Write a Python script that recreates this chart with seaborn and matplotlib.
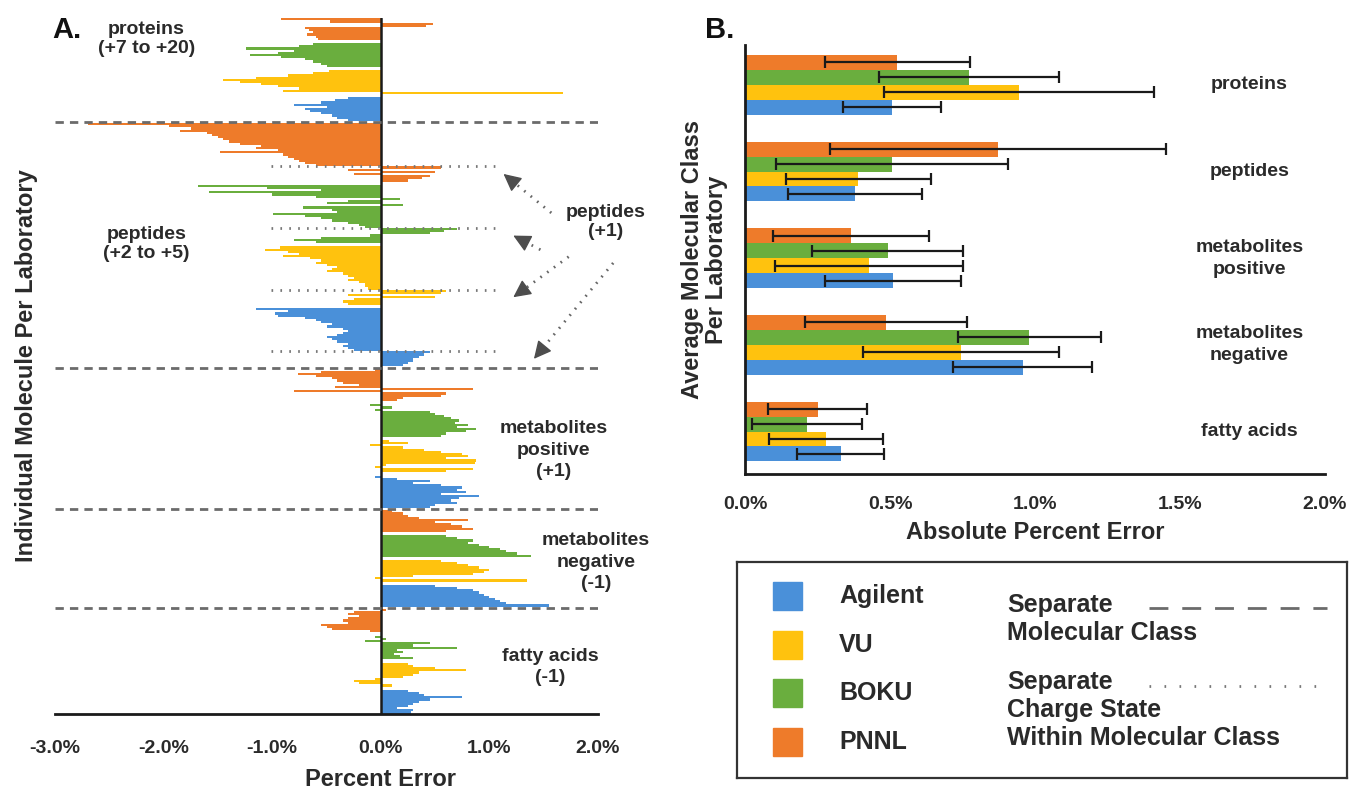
import matplotlib
matplotlib.use('Agg')
import matplotlib.pyplot as plt
import matplotlib.ticker as mticker
import numpy as np
import pandas as pd
import seaborn as sns

# labs, top to bottom inside every group
labs = ['PNNL', 'BOKU', 'VU', 'Agilent']
lab_colors = {'PNNL': '#EE7B2A', 'BOKU': '#6AAE3E', 'VU': '#FFC20E', 'Agilent': '#4A90D9'}

### PANEL A : percent error of every molecule (listed top to bottom) ###
prot_pnnl = [-0.92, -0.47, 0.48, 0.42, -0.70, -0.66, -0.62, -0.68, -0.60, -0.58]
prot_boku = [-0.62, -0.75, -1.24, -0.80, -0.95, -1.20, -0.92, -0.70, -0.62, -0.55, -0.50]
prot_vu = [-0.48, -0.62, -0.85, -1.15, -1.45, -1.30, -1.10, -0.95, -0.75, -0.90, 1.68]
prot_agilent = [-0.30, -0.42, -0.55, -0.80, -0.50, -0.70, -0.65, -0.55, -0.45, -0.40, -0.30]

# peptides +2 to +5
pep_pnnl = [-2.70, -1.95, -1.75, -1.85, -1.60, -1.55, -1.50, -1.45, -1.40, -1.30, -1.10,
            -1.15, -0.95, -1.48, -0.90, -0.85, -0.80, -0.75, -0.70, -0.60]
pep_boku = [-1.68, -1.05, -0.55, -1.58, -1.00, -0.60, 0.18, -0.30, -0.50, 0.20, -0.72,
            -0.45, -0.40, -0.99, -0.70, -0.55, -0.45, -0.30, -0.20, -0.15]
pep_vu = [-0.93, -1.07, -0.85, -0.75, -0.90, -0.65, -0.55, -0.60, -0.50, -0.40,
          -0.45, -0.50, -0.35, -0.30, -0.25, -0.30, -0.20, -0.15, -0.15, -0.12]
pep_agilent = [-1.15, -0.85, -0.97, -0.95, -0.70, -0.60, -0.55, -0.45, -0.50, -0.35,
               -0.30, -0.35, -0.40, -0.50, -0.45, -0.40, -0.30, -0.35, -0.30, -0.25]
# peptides +1
pep1_pnnl = [0.55, -0.30, 0.50, -0.25, 0.45, 0.38, 0.25]
pep1_boku = [0.70, 0.58, 0.45, -0.10, -0.55, -0.80, -0.60]
pep1_vu = [0.60, 0.55, -0.30, 0.50, -0.25, -0.35, -0.30]
pep1_agilent = [0.45, 0.40, 0.35, 0.30, 0.30, 0.25, 0.20]

metp_pnnl = [-0.05, -0.55, -0.76, -0.60, -0.45, -0.40, -0.35, -0.20, -0.42, 0.85, -0.80, 0.60, 0.55, 0.20, 0.15]
metp_boku = [-0.10, 0.10, -0.05, 0.45, 0.50, 0.58, 0.65, 0.72, 0.68, 0.80, 0.70, 0.88, 0.78, 0.60, 0.55]
metp_vu = [0.08, 0.25, -0.10, 0.20, 0.40, 0.55, 0.75, 0.80, 0.60, 0.88, 0.87, 0.05, -0.05, 0.85, 0.60]
metp_agilent = [-0.05, 0.15, 0.45, 0.30, 0.55, 0.75, 0.70, 0.78, 0.55, 0.90, 0.72, 0.65, 0.70, 0.50, 0.45]

metn_pnnl = [0.10, 0.20, 0.25, 0.35, 0.80, 0.50, 0.65, 0.75, 0.85, 0.60]
metn_boku = [0.60, 0.70, 0.85, 0.80, 0.90, 1.00, 1.10, 1.15, 1.25, 1.38]
metn_vu = [0.55, 0.70, 0.80, 0.90, 1.00, 0.95, 0.85, 0.30, -0.05, 1.35]
metn_agilent = [0.50, 0.70, 0.85, 0.90, 0.95, 1.00, 1.05, 1.10, 1.15, 1.55]

fa_pnnl = [0.05, -0.25, -0.30, -0.20, -0.30, -0.35, -0.30, -0.55, -0.50, -0.45, -0.10]
fa_boku = [-0.05, 0.05, -0.15, 0.45, 0.30, 0.70, 0.15, 0.20, 0.12, 0.18, 0.30]
fa_vu = [0.25, 0.30, 0.50, 0.78, 0.35, 0.30, 0.20, -0.05, -0.25, -0.20, 0.10]
fa_agilent = [0.25, 0.35, 0.40, 0.75, 0.45, 0.35, 0.30, 0.25, 0.15, 0.30, 0.28]

a_ticks = [-3, -2, -1, 0, 1, 2]

### PANEL B : average absolute percent error per class and lab ###
classes_b = ['proteins', 'peptides', 'metabolites\npositive', 'metabolites\nnegative', 'fatty acids']
mean_pnnl = [0.525, 0.873, 0.365, 0.487, 0.250]
err_pnnl = [0.250, 0.580, 0.270, 0.280, 0.170]
mean_boku = [0.772, 0.508, 0.492, 0.980, 0.214]
err_boku = [0.310, 0.400, 0.260, 0.246, 0.190]
mean_vu = [0.946, 0.390, 0.427, 0.745, 0.279]
err_vu = [0.465, 0.250, 0.325, 0.337, 0.196]
mean_agilent = [0.507, 0.379, 0.511, 0.957, 0.330]
err_agilent = [0.170, 0.230, 0.234, 0.240, 0.150]

sns.set_style('white')
plt.rcParams['font.family'] = ['Liberation Sans', 'DejaVu Sans']
plt.rcParams['font.weight'] = 'bold'
txt = '#2a2a2a'

W, H = 1358, 793
fig = plt.figure(figsize=(W / 100, H / 100), dpi=100)

# ---------------- panel A ----------------
sections_a = [
    {'PNNL': [prot_pnnl], 'BOKU': [prot_boku], 'VU': [prot_vu], 'Agilent': [prot_agilent]},
    {'PNNL': [pep_pnnl, pep1_pnnl], 'BOKU': [pep_boku, pep1_boku],
     'VU': [pep_vu, pep1_vu], 'Agilent': [pep_agilent, pep1_agilent]},
    {'PNNL': [metp_pnnl], 'BOKU': [metp_boku], 'VU': [metp_vu], 'Agilent': [metp_agilent]},
    {'PNNL': [metn_pnnl], 'BOKU': [metn_boku], 'VU': [metn_vu], 'Agilent': [metn_agilent]},
    {'PNNL': [fa_pnnl], 'BOKU': [fa_boku], 'VU': [fa_vu], 'Agilent': [fa_agilent]},
]
rows = []
dashed_y, dotted_y, plus1_y = [], [], []
pos = 0.0
for s, sec in enumerate(sections_a):
    for j, lab in enumerate(labs):
        for k, part in enumerate(sec[lab]):
            if k == 1:
                dotted_y.append(pos - 0.5)
                plus1_y.append(pos + (len(part) - 1) / 2)
            for v in part:
                rows.append({'pos': pos, 'error': v, 'lab': lab})
                pos += 1
        if j < len(labs) - 1:
            pos += 1.5
    if s < len(sections_a) - 1:
        dashed_y.append(pos)
        pos += 1.0
dfA = pd.DataFrame(rows)

axA = fig.add_axes([55 / W, 1 - 714 / H, 543 / W, 696 / H])
sns.barplot(data=dfA, x='error', y='pos', hue='lab', hue_order=labs, palette=lab_colors,
            orient='h', native_scale=True, dodge=False, width=1.0, errorbar=None,
            saturation=1, linewidth=0, legend=False, ax=axA)
axA.set_xlim(-3, 2)
axA.set_ylim(pos - 0.3, -0.6)
axA.set_yticks([])
axA.set_ylabel('Individual Molecule Per Laboratory', fontsize=17, fontweight='bold', color=txt, labelpad=12)
axA.set_xticks(a_ticks)
axA.set_xticklabels([f'{t:.1f}%' for t in a_ticks], fontsize=14, fontweight='bold', color=txt)
axA.set_xlabel('Percent Error', fontsize=17, fontweight='bold', color=txt)
axA.xaxis.set_label_coords(0.6, -0.078)
axA.tick_params(axis='x', direction='inout', length=14, width=2, color='#1a1a1a', pad=12)
for side in ['left', 'top', 'right']:
    axA.spines[side].set_visible(False)
axA.spines['bottom'].set_linewidth(2)
axA.spines['bottom'].set_color('#1a1a1a')
axA.axvline(0, color='#1a1a1a', lw=1.8, zorder=5)

for y in dashed_y:
    axA.axhline(y, color='#6b6b6b', lw=2, dashes=(3, 2.2), zorder=6)
for y in dotted_y:
    axA.plot([-1.01, 1.06], [y, y], color='#777777', lw=2, dashes=(0.6, 2.6), zorder=6)

xtr = axA.get_xaxis_transform()
axA.text(-2.16, 0.970, 'proteins\n(+7 to +20)', transform=xtr, ha='center', va='center', fontsize=14, color=txt)
axA.text(-2.16, 0.675, 'peptides\n(+2 to +5)', transform=xtr, ha='center', va='center', fontsize=14, color=txt)
axA.text(2.07, 0.707, 'peptides\n(+1)', transform=xtr, ha='center', va='center', fontsize=14, color=txt)
axA.text(1.59, 0.379, 'metabolites\npositive\n(+1)', transform=xtr, ha='center', va='center',
         fontsize=14, color=txt, linespacing=1.35)
axA.text(1.98, 0.218, 'metabolites\nnegative\n(-1)', transform=xtr, ha='center', va='center',
         fontsize=14, color=txt, linespacing=1.35)
axA.text(1.56, 0.0675, 'fatty acids\n(-1)', transform=xtr, ha='center', va='center',
         fontsize=14, color=txt, linespacing=1.35)

# dotted arrows from the "peptides (+1)" label to each +1 block
tip_x = [1.13, 1.22, 1.22, 1.41]
tail = [(1.57, 0.72), (1.47, 0.667), (1.73, 0.657), (2.14, 0.648)]
to_data = axA.transData.inverted()
for tx, ty, (sx, sy) in zip(tip_x, plus1_y, tail):
    tip_px = np.array(axA.transData.transform((tx, ty)))
    tail_px = np.array(xtr.transform((sx, sy)))
    d = (tail_px - tip_px) / np.hypot(*(tail_px - tip_px))
    base = to_data.transform(tip_px + d * 12)
    tail_d = to_data.transform(tail_px)
    axA.plot([tail_d[0], base[0]], [tail_d[1], base[1]], color='#666666', lw=2,
             dashes=(0.6, 2.4), clip_on=False)
    axA.annotate('', xy=(tx, ty), xytext=(base[0], base[1]),
                 arrowprops=dict(arrowstyle='-|>,head_length=0.9,head_width=0.45', color='#4d4d4d',
                                 lw=1, mutation_scale=12, shrinkA=0, shrinkB=0),
                 annotation_clip=False)

fig.text(52 / W, 1 - 30 / H, 'A.', fontsize=21, fontweight='bold', color='#111111', va='center')
fig.text(705 / W, 1 - 30 / H, 'B.', fontsize=21, fontweight='bold', color='#111111', va='center')

# ---------------- panel B ----------------
dfB = pd.DataFrame({
    'cls': classes_b * 4,
    'lab': [l for l in labs for _ in classes_b],
    'mean': mean_pnnl + mean_boku + mean_vu + mean_agilent,
    'err': err_pnnl + err_boku + err_vu + err_agilent,
})
axB = fig.add_axes([745 / W, 1 - 474 / H, 580 / W, 429 / H])
sns.barplot(data=dfB, x='mean', y='cls', hue='lab', order=classes_b, hue_order=labs,
            palette=lab_colors, orient='h', width=0.69, errorbar=None, linewidth=0,
            saturation=1, legend=False, ax=axB)
for lab, cont in zip(labs, axB.containers):
    sub = dfB[dfB['lab'] == lab].set_index('cls').loc[classes_b]
    ys = [b.get_y() + b.get_height() / 2 for b in cont]
    axB.errorbar(sub['mean'].values, ys, xerr=sub['err'].values, fmt='none', ecolor='#1a1a1a',
                 elinewidth=1.6, capsize=4, capthick=1.6, zorder=4)
axB.set_xlim(0, 2)
axB.set_ylim(4.49, -0.46)
axB.set_yticks([])
axB.set_ylabel('Average Molecular Class\nPer Laboratory', fontsize=17, fontweight='bold',
               color=txt, labelpad=12, linespacing=1.05)
axB.xaxis.set_major_locator(mticker.MultipleLocator(0.5))
axB.xaxis.set_minor_locator(mticker.MultipleLocator(0.25))
axB.xaxis.set_major_formatter(mticker.FuncFormatter(lambda v, p: f'{v:.1f}%'))
axB.tick_params(axis='x', which='both', direction='inout', length=13, width=2, color='#1a1a1a',
                labelsize=14, labelcolor=txt, pad=9)
for lab_t in axB.get_xticklabels():
    lab_t.set_fontweight('bold')
axB.set_xlabel('Absolute Percent Error', fontsize=17, fontweight='bold', color=txt, labelpad=6)
for side in ['top', 'right']:
    axB.spines[side].set_visible(False)
for side in ['left', 'bottom']:
    axB.spines[side].set_linewidth(2)
    axB.spines[side].set_color('#1a1a1a')
for i, name in enumerate(classes_b):
    axB.text(1.74, i, name, ha='center', va='center', fontsize=14, color=txt, linespacing=1.4)

# ---------------- legend box ----------------
axL = fig.add_axes([737 / W, 1 - 778 / H, 610 / W, 216 / H])
axL.set_xlim(0, 610)
axL.set_ylim(216, 0)
axL.set_xticks([])
axL.set_yticks([])
for sp in axL.spines.values():
    sp.set_linewidth(1.6)
    sp.set_color('#333333')
leg_order = ['Agilent', 'VU', 'BOKU', 'PNNL']
for i, lab in enumerate(leg_order):
    yc = 34 + i * 48.7
    axL.add_patch(plt.Rectangle((36, yc - 14), 29, 28, color=lab_colors[lab]))
    axL.text(102, yc, lab, ha='left', va='center', fontsize=18, color=txt)
axL.text(270, 57, 'Separate\nMolecular Class', ha='left', va='center', fontsize=18, color=txt,
         linespacing=1.2)
axL.plot([412, 590], [46, 46], color='#6b6b6b', lw=2, dashes=(6.8, 5))
axL.text(270, 148, 'Separate\nCharge State\nWithin Molecular Class', ha='left', va='center',
         fontsize=18, color=txt, linespacing=1.2)
axL.plot([412, 590], [124, 124], color='#777777', lw=2, dashes=(0.6, 4.8))

fig.savefig('out.png', dpi=100)
